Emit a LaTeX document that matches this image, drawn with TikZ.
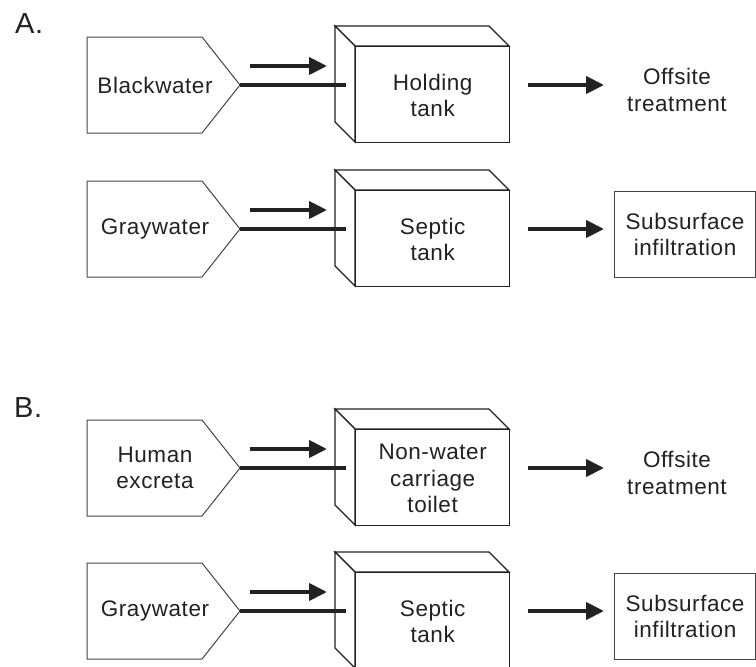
\documentclass[tikz,border=0pt]{standalone}
\usepackage{fontspec}
\setmainfont{Liberation Sans}[LetterSpace=2.5]
\usetikzlibrary{arrows.meta}
\definecolor{ink}{HTML}{222222}
\definecolor{edge}{HTML}{444444}
\tikzset{
  srcshape/.style={draw=edge, line width=1pt, fill=white, line join=miter},
  tankface/.style={draw=ink, line width=1.3pt, fill=white, line join=miter},
  flow/.style={draw=ink, line width=4pt},
  flowarrow/.style={draw=ink, line width=4pt, -{Triangle[length=18pt,width=17pt]}},
  lbl/.style={text=ink, font=\fontsize{22.5}{26.5}\selectfont, align=center, inner sep=0pt},
  destbox/.style={draw=edge, line width=1.1pt, fill=white, minimum width=141pt, minimum height=86pt, anchor=north west},
  sectlbl/.style={text=ink, font=\fontsize{29}{34}\selectfont, inner sep=0pt, anchor=base west}
}
% #1 prefix, #2 top y of source shape, #3 source text, #4 tank text
\newcommand\flowrow[4]{%
  \draw[srcshape] (87,#2) -- (202,#2) -- (240,{#2+48}) -- (202,{#2+96}) -- (87,{#2+96}) -- cycle;
  \node[lbl] (#1src) at (155,{#2+48}) {#3};
  \coordinate (#1tip) at (240,{#2+48});
  \draw[tankface] (335,{#2-11}) -- (489,{#2-11}) -- (509,{#2+9}) -- (355,{#2+9}) -- cycle;
  \draw[tankface] (335,{#2-11}) -- (355,{#2+9}) -- (355,{#2+105}) -- (335,{#2+85}) -- cycle;
  \node[tankface, minimum width=154pt, minimum height=96pt, inner sep=0pt, anchor=north west] (#1tank) at (355,{#2+9}) {};
  \node[lbl] (#1tanktext) at ([yshift=-1pt]#1tank.center) {#4};
  \coordinate (#1end) at (346,{#2+48});
  \draw[flow] (#1tip) -- (#1end);
  \coordinate (#1ina) at (250,{#2+29});
  \coordinate (#1inb) at (327,{#2+29});
  \draw[flowarrow] (#1ina) -- (#1inb);
  \coordinate (#1outa) at (528,{#2+48});
  \coordinate (#1outb) at (604,{#2+48});
  \draw[flowarrow] (#1outa) -- (#1outb);
}
\begin{document}
\begin{tikzpicture}[x=1pt,y=-1pt]
  \useasboundingbox[fill=white] (0,0) rectangle (756,667);
  \node[sectlbl] (labA) at (15,33) {A.};
  \node[sectlbl] (labB) at (14,417) {B.};
  \flowrow{r1}{37}{Blackwater}{Holding\\tank}
  \node[lbl] (r1dest) at (677,90) {Offsite\\treatment};
  \flowrow{r2}{181}{Graywater}{Septic\\tank}
  \node[destbox] (r2dest) at (614,191) {};
  \node[lbl] (r2desttext) at (r2dest.center) {Subsurface\\infiltration};
  \flowrow{r3}{420}{Human\\excreta}{Non-water\\carriage\\toilet}
  \node[lbl] (r3dest) at (677,473) {Offsite\\treatment};
  \flowrow{r4}{563}{Graywater}{Septic\\tank}
  \node[destbox] (r4dest) at (614,573) {};
  \node[lbl] (r4desttext) at (r4dest.center) {Subsurface\\infiltration};
\end{tikzpicture}
\end{document}
